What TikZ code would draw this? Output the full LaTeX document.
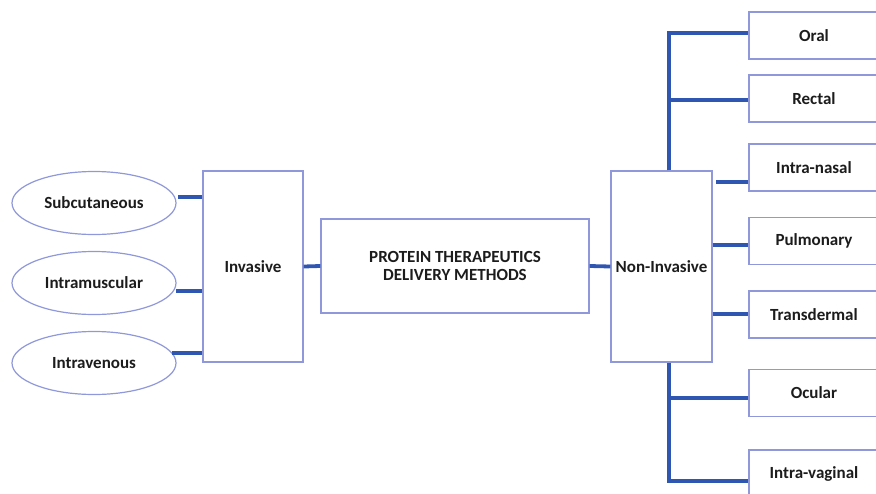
\documentclass[tikz,border=0pt]{standalone}
\usepackage{fontspec}
\setmainfont{Carlito}
\usetikzlibrary{shapes.geometric}
\definecolor{linkblue}{HTML}{2F56B0}
\definecolor{edgeblue}{HTML}{8E98DA}
\definecolor{inkgray}{HTML}{1C1C1C}
\tikzset{
  box/.style={draw=edgeblue, line width=1.2pt, fill=white, rectangle, inner sep=0pt,
              text=inkgray, font=\bfseries\fontsize{17}{20}\selectfont, align=center},
  oval/.style={draw=edgeblue, line width=1.2pt, fill=white, ellipse, inner sep=0pt,
               minimum width=164pt, minimum height=63pt,
               text=inkgray, font=\bfseries\fontsize{17}{20}\selectfont},
  leaf/.style={box, minimum width=130pt, minimum height=47pt},
  conn/.style={draw=linkblue, line width=3.8pt},
}
\begin{document}
\begin{tikzpicture}[x=1pt, y=-1pt]
\useasboundingbox (0,0) rectangle (876,493);
\clip (0,0) rectangle (876,493);

% left branch: invasive routes
\node[oval] (subc) at (94,203) {Subcutaneous};
\node[oval] (intm) at (94,283) {Intramuscular};
\node[oval] (intv) at (94,363) {Intravenous};
\node[box, minimum width=100pt, minimum height=191pt] (inv) at (253,266.5) {Invasive};

% centre
\node[box, minimum width=268pt, minimum height=94pt,
      font=\bfseries\fontsize{17}{18.5}\selectfont] (root) at (455,266)
      {PROTEIN THERAPEUTICS\\DELIVERY METHODS};

% right branch: non-invasive routes
\node[box, minimum width=101pt, minimum height=191pt] (ninv) at (661.5,266.5) {Non-Invasive};

\node[leaf] (oral)   at (814,35.5)  {Oral};
\node[leaf] (rect)   at (814,98.5)  {Rectal};
\node[leaf] (nasal)  at (814,167.5) {Intra-nasal};
\node[leaf] (pulm)   at (814,241)   {Pulmonary};
\node[leaf] (trans)  at (814,314.5) {Transdermal};
\node[leaf] (ocul)   at (814,393)   {Ocular};
\node[leaf] (vag)    at (814,473.5) {Intra-vaginal};

% stub ends and trunk corners
\coordinate (s1) at (178,197);
\coordinate (s2) at (176,291);
\coordinate (s3) at (172,353);
\coordinate (tu) at (669,33);
\coordinate (tl) at (669,481);
\coordinate (n1) at (716,182);

% connectors on the left
\draw[conn] (s1) -- (s1 -| inv.west);
\draw[conn] (s2) -- (s2 -| inv.west);
\draw[conn] (s3) -- (s3 -| inv.west);
\draw[conn] (inv.east) -- (root.west);
\draw[conn] (root.east) -- (ninv.west);

% upper trunk
\draw[conn] (tu |- ninv.north) -- (tu) -- (tu -| oral.west);
\draw[conn] (tu |- 0,100) -- (rect.west |- 0,100);
% side stubs
\draw[conn] (n1) -- (n1 -| nasal.west);
\draw[conn] (ninv.east |- 0,245) -- (pulm.west |- 0,245);
\draw[conn] (ninv.east |- 0,314) -- (trans.west |- 0,314);
% lower trunk
\draw[conn] (tl |- ninv.south) -- (tl) -- (tl -| vag.west);
\draw[conn] (tl |- 0,398) -- (ocul.west |- 0,398);
\end{tikzpicture}
\end{document}
